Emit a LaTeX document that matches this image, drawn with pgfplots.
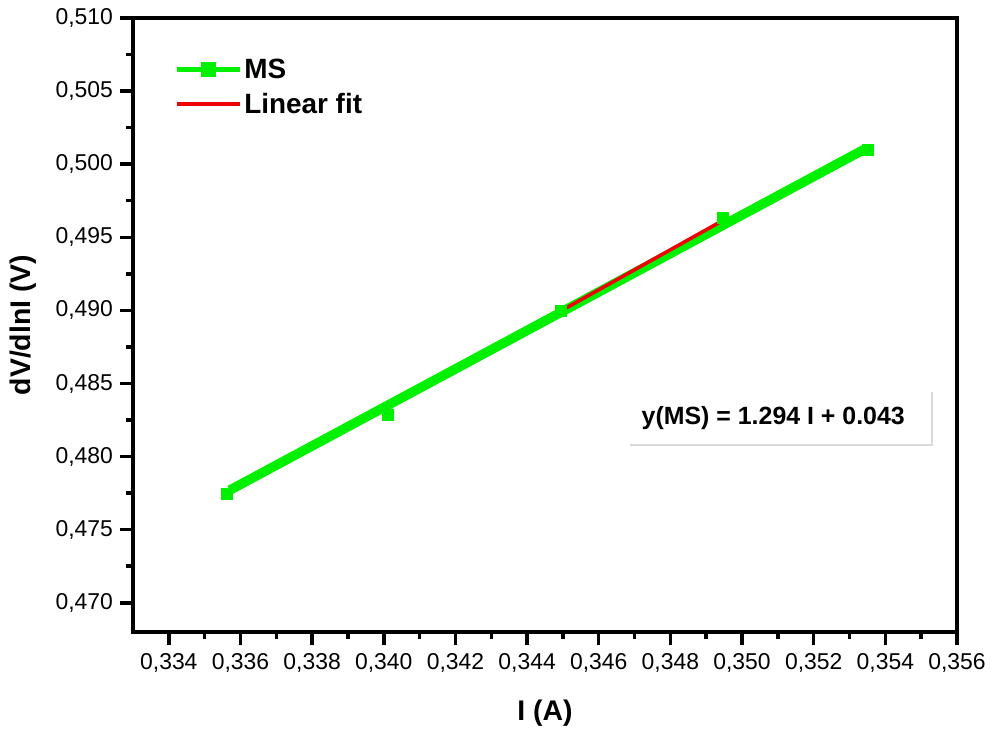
\documentclass[border=0pt]{standalone}
\usepackage{fontspec}
\setmainfont{Liberation Sans}
\usepackage{pgfplots}
\pgfplotsset{compat=1.18}
\definecolor{msgreen}{RGB}{0,240,0}
\definecolor{fitred}{RGB}{240,0,0}
\begin{document}
\begin{tikzpicture}
\path (0,0) rectangle (991bp,729bp);
\begin{axis}[
  at={(133bp,97bp)}, anchor=south west,
  scale only axis, width=824bp, height=614bp,
  line width=3.5bp,
  xmin=0.333, xmax=0.356, ymin=0.468, ymax=0.510,
  xtick={0.334,0.336,...,0.3565},
  ytick={0.470,0.475,...,0.5105},
  minor x tick num=1, minor y tick num=1,
  xtick pos=bottom, ytick pos=left,
  tick align=outside,
  major tick length=13bp, minor tick length=7bp,
  every tick/.style={black, line width=3.5bp},
  /pgf/number format/.cd, fixed, fixed zerofill, precision=3, use comma, assume math mode=true,
  /pgfplots/.cd,
  scaled x ticks=false, scaled y ticks=false,
  tick label style={font=\fontsize{23}{25}\selectfont},
  xticklabel style={yshift=-3bp},
  yticklabel style={xshift=-2bp},
  xlabel={\textbf{I (A)}},
  ylabel={\textbf{dV/dlnI (V)}},
  label style={font=\fontsize{28.5}{30}\selectfont},
  xlabel style={yshift=-20bp},
  ylabel style={yshift=11bp},
  legend style={at={(0.0486,0.939)}, anchor=north west, draw=none, fill=none, inner sep=0pt,
    font=\fontsize{28}{30}\selectfont\bfseries, row sep=9bp},
  legend cell align=left,
]
\addplot[msgreen, line width=9.5bp, forget plot] coordinates {(0.3357,0.4777) (0.3534,0.5010)};
\addplot[only marks, mark=square*, mark size=5.5bp, color=msgreen, mark options={line width=0.4bp},
  legend image code/.code={
    \draw[msgreen, line width=4.5bp] (-3bp,0bp) -- (60bp,0bp);
    \fill[msgreen] (23bp,-5.5bp) rectangle (34bp,5.5bp);}]
  coordinates {(0.33562,0.47744) (0.34011,0.48283) (0.34495,0.4900) (0.34946,0.49635) (0.35352,0.50099)};
\addlegendentry{MS}
\addplot[fitred, line width=3.5bp,
  legend image code/.code={\draw[fitred, line width=4.5bp] (-3bp,0bp) -- (60bp,0bp);}]
  coordinates {(0.3449,0.4899) (0.3495,0.4962)};
\addlegendentry{Linear fit}
\draw[gray!30, line width=2bp] (rel axis cs:0.970,0.391) -- (rel axis cs:0.970,0.3046) -- (rel axis cs:0.603,0.3046);
\node[font=\fontsize{25}{27}\selectfont\bfseries] at (rel axis cs:0.777,0.3485) {y(MS) = 1.294 I + 0.043};
\end{axis}
\end{tikzpicture}
\end{document}
